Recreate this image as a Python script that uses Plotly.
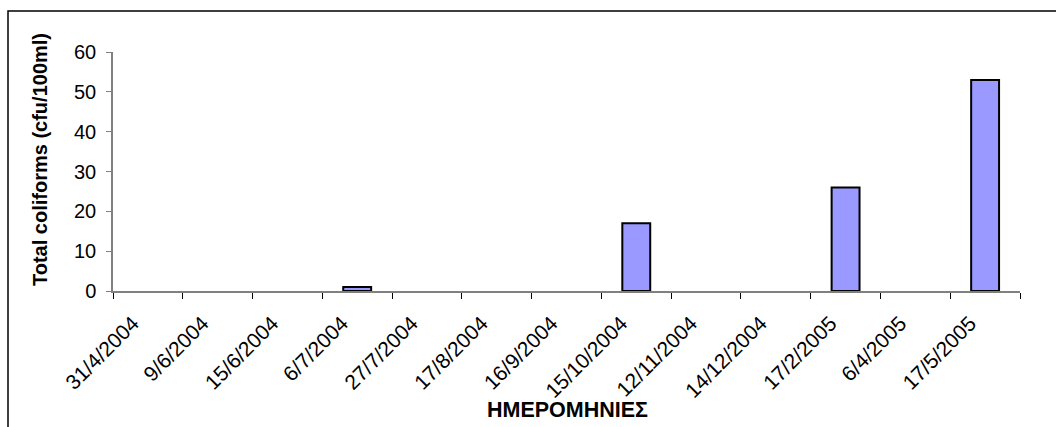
import plotly.graph_objects as go

# Sampling dates and total coliform counts
dates = ["31/4/2004", "9/6/2004", "15/6/2004", "6/7/2004", "27/7/2004",
         "17/8/2004", "16/9/2004", "15/10/2004", "12/11/2004", "14/12/2004",
         "17/2/2005", "6/4/2005", "17/5/2005"]
coliforms = [0, 0, 0, 1, 0, 0, 0, 17, 0, 0, 26, 0, 53]
y_ticks = [0, 10, 20, 30, 40, 50, 60]

# empty samples get no outline so nothing shows on the baseline
outline_widths = [2 if v > 0 else 0 for v in coliforms]

fig = go.Figure(
    go.Bar(
        x=dates,
        y=coliforms,
        marker=dict(color="#9999FF", line=dict(color="black", width=outline_widths)),
        width=0.4,
    )
)

font = "Liberation Sans, Arial, sans-serif"

# plot area spans 113..1020 px horizontally and 52..291 px vertically
def px_x(p):
    return (p - 113) / 907

def px_y(p):
    return (291 - p) / 239

fig.update_layout(
    width=1056,
    height=427,
    margin=dict(l=113, r=36, t=52, b=136),
    paper_bgcolor="white",
    plot_bgcolor="white",
    showlegend=False,
    font=dict(family=font, size=20, color="black"),
    xaxis=dict(
        type="category",
        tickangle=-45,
        ticks="outside",
        tickson="boundaries",
        ticklen=6,
        tickcolor="black",
        showline=True,
        linecolor="#808080",
        linewidth=1.5,
        showgrid=False,
        tickfont=dict(size=21),
        ticklabelstandoff=10,
        ticklabelshift=-15,
    ),
    yaxis=dict(
        range=[0, 60],
        tickvals=y_ticks,
        ticks="outside",
        ticklen=5,
        tickcolor="#808080",
        showline=True,
        linecolor="#808080",
        linewidth=1.5,
        showgrid=False,
        zeroline=False,
        tickfont=dict(size=20),
        ticklabelstandoff=6,
    ),
    annotations=[
        dict(text="<b>Total coliforms (cfu/100ml)</b>", xref="paper", yref="paper",
             x=px_x(40), y=px_y(160), textangle=-90, showarrow=False,
             xanchor="center", yanchor="middle", font=dict(size=20)),
        dict(text="<b>ΗΜΕΡΟΜΗΝΙΕΣ</b>", xref="paper", yref="paper",
             x=px_x(567), y=px_y(410), showarrow=False,
             xanchor="center", yanchor="middle", font=dict(size=21.5)),
    ],
    shapes=[
        # chart frame
        dict(type="rect", xref="paper", yref="paper",
             x0=px_x(8), x1=1.2, y0=-0.8, y1=px_y(11),
             line=dict(color="black", width=1.5), fillcolor="rgba(0,0,0,0)",
             layer="below"),
    ],
)

fig.write_html("out.html")
